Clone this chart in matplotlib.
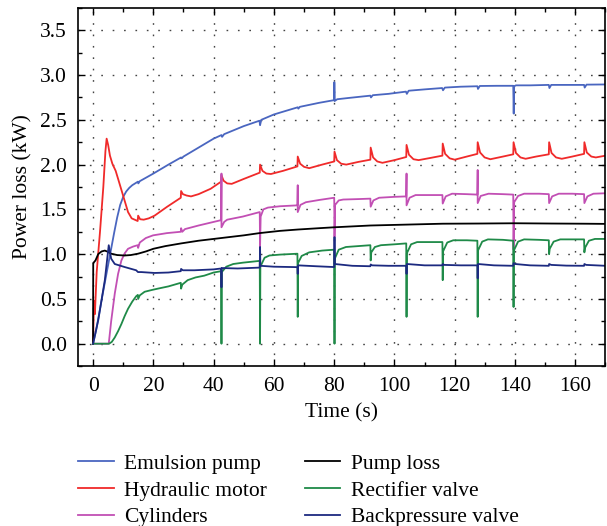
import matplotlib
matplotlib.use("Agg")
import matplotlib.pyplot as plt
from matplotlib.ticker import MultipleLocator

plt.rcParams["font.family"] = ["Liberation Serif", "DejaVu Serif"]
plt.rcParams["mathtext.fontset"] = "stix"

# Emulsion pump
emulsion_t = [0, 1, 2, 3, 4, 5, 6, 7, 8, 9, 10, 11, 12, 13, 14.9, 15.0, 15.5,
              20, 25, 29.2, 29.4, 30, 35, 40, 42.6, 42.8, 43.5, 50, 55.2, 55.4,
              55.8, 60, 67.9, 68.1, 68.6, 75, 80.0, 80.05, 80.15, 81, 85, 92.0,
              92.2, 92.8, 98, 103.8, 104.1, 104.7, 110, 115.8, 116.1, 116.7,
              122, 127.5, 127.7, 128.3, 134, 139.4, 139.55, 139.7, 140.3, 145,
              151.2, 151.4, 152, 157, 162.9, 163.1, 163.7, 170]
emulsion_kw = [0.0, 0.15, 0.33, 0.52, 0.70, 0.88, 1.06, 1.24, 1.41, 1.55, 1.64,
               1.70, 1.74, 1.77, 1.81, 1.79, 1.815, 1.90, 2.00, 2.08, 2.07, 2.09,
               2.19, 2.29, 2.33, 2.31, 2.34, 2.43, 2.49, 2.44, 2.50, 2.56, 2.64,
               2.625, 2.645, 2.69, 2.72, 2.92, 2.71, 2.73, 2.745, 2.77, 2.75,
               2.775, 2.79, 2.815, 2.79, 2.825, 2.84, 2.855, 2.83, 2.86, 2.87,
               2.875, 2.845, 2.878, 2.88, 2.88, 2.57, 2.875, 2.885, 2.885, 2.89,
               2.855, 2.89, 2.89, 2.89, 2.86, 2.893, 2.895]

# Hydraulic motor
motor_t = [0, 0.3, 0.6, 1.2, 2.3, 3.4, 4.1, 4.5, 5.0, 5.6, 6.4, 7.5, 8.4, 10.0,
           11.6, 12.8, 14.8, 14.95, 15.6, 16.8, 18.5, 20.4, 24.6, 29.1, 29.2,
           29.8, 31.0, 32.5, 35, 39, 42.5, 42.6, 43.3, 44.5, 46, 50, 55.3, 55.4,
           56.2, 57.5, 59, 63, 67.8, 67.9, 68.7, 70, 71.7, 76, 80.0, 80.1, 80.9,
           82.3, 84, 88, 92.0, 92.1, 92.9, 94.3, 96, 100, 103.9, 104.0, 104.8,
           106.3, 108, 112, 115.9, 116.0, 116.8, 118.3, 120, 124, 127.5, 127.6,
           128.4, 129.9, 131.8, 136, 139.4, 139.5, 140.3, 141.8, 143.5, 147,
           151.2, 151.3, 152.1, 153.6, 155.5, 159, 162.9, 163.0, 163.8, 165.3,
           166.8, 170]
motor_kw = [0.0, 0.48, 0.33, 0.80, 1.25, 1.75, 2.15, 2.29, 2.22, 2.10, 2.01,
            1.93, 1.83, 1.65, 1.47, 1.40, 1.37, 1.43, 1.39, 1.385, 1.40, 1.43,
            1.53, 1.63, 1.705, 1.67, 1.655, 1.645, 1.67, 1.73, 1.81, 1.88, 1.82,
            1.79, 1.785, 1.84, 1.91, 2.00, 1.93, 1.90, 1.895, 1.93, 1.98, 2.09,
            2.01, 1.975, 1.96, 2.00, 2.035, 2.145, 2.05, 2.01, 2.00, 2.03, 2.055,
            2.19, 2.08, 2.035, 2.02, 2.05, 2.085, 2.22, 2.11, 2.06, 2.05, 2.075,
            2.10, 2.235, 2.12, 2.07, 2.055, 2.09, 2.12, 2.25, 2.135, 2.08, 2.06,
            2.09, 2.115, 2.25, 2.13, 2.08, 2.065, 2.09, 2.115, 2.25, 2.13, 2.08,
            2.065, 2.09, 2.12, 2.25, 2.135, 2.09, 2.08, 2.10]

# Cylinders
cyl_t = [0, 5.2, 6.0, 7.2, 8.3, 9.4, 10.5, 11.6, 13.3, 14.8, 14.95, 15.5, 17.5,
         19.9, 24.5, 29.1, 29.2, 29.6, 30.5, 35, 40, 42.5, 42.6, 42.6, 43.5,
         44.5, 49.7, 55.3, 55.4, 55.6, 56.5, 58, 62, 67.8, 67.9, 67.9, 68.8,
         70.6, 75, 80.0, 80.1, 80.3, 81.5, 83, 88, 92.0, 92.1, 93, 94.9, 100,
         103.9, 104.0, 104.0, 105, 107, 112, 115.9, 116.0, 117, 119.1, 124,
         127.5, 127.6, 127.6, 128.6, 131.2, 136, 139.4, 139.5, 139.7, 141, 143,
         148, 151.2, 151.3, 152.3, 154.5, 159, 162.9, 163.0, 164, 166, 170]
cyl_kw = [0.0, 0.0, 0.25, 0.56, 0.78, 0.93, 1.01, 1.06, 1.085, 1.10, 1.07, 1.13,
          1.18, 1.21, 1.235, 1.25, 1.29, 1.25, 1.28, 1.32, 1.36, 1.38, 1.90,
          1.30, 1.36, 1.385, 1.42, 1.47, 1.08, 1.42, 1.50, 1.52, 1.535, 1.545,
          1.77, 1.47, 1.55, 1.58, 1.605, 1.63, 1.19, 1.55, 1.60, 1.61, 1.615,
          1.62, 1.53, 1.60, 1.63, 1.64, 1.645, 1.90, 1.545, 1.63, 1.66, 1.66,
          1.66, 1.565, 1.645, 1.675, 1.67, 1.665, 1.94, 1.57, 1.65, 1.675, 1.67,
          1.665, 1.05, 1.58, 1.65, 1.675, 1.675, 1.67, 1.57, 1.645, 1.675,
          1.675, 1.67, 1.57, 1.645, 1.675, 1.68]

# Pump loss
pump_t = [0, 0.05, 0.8, 1.7, 2.8, 3.9, 5.0, 6.0, 8.0, 10.5, 12.5, 14.9, 17.5, 20,
          24, 29.2, 35, 42.5, 50, 55.2, 62, 67.9, 75, 80, 92, 104, 116, 128,
          140, 152, 163, 170]
pump_kw = [0.0, 0.90, 0.93, 1.00, 1.03, 1.04, 1.025, 1.005, 0.99, 0.985, 0.99,
           1.005, 1.03, 1.06, 1.09, 1.12, 1.15, 1.18, 1.21, 1.235, 1.26, 1.275,
           1.29, 1.30, 1.32, 1.33, 1.34, 1.342, 1.345, 1.342, 1.34, 1.338]

# Rectifier valve
rect_t = [0, 5.3, 6.2, 7.2, 8.3, 9.4, 10.5, 11.6, 13.0, 14.3, 14.85, 14.95,
          15.5, 17.1, 19.5, 21.5, 25, 29.1, 29.2, 29.6, 31.4, 34, 36.9, 40,
          42.5, 42.6, 42.7, 44.2, 46.5, 49.7, 55.3, 55.4, 55.5, 56.9, 58.5, 62,
          67.8, 67.9, 68.0, 69.2, 71.7, 76, 80.0, 80.1, 80.2, 81.5, 83.9, 88,
          92.0, 92.1, 92.3, 93.5, 95.5, 100, 103.9, 104.0, 104.1, 105.5, 107.5,
          112, 115.9, 116.0, 116.1, 117.5, 119.5, 124, 127.5, 127.6, 127.7,
          129.1, 131, 136, 139.4, 139.5, 139.6, 141, 143, 148, 151.2, 151.3,
          151.5, 152.8, 155, 159, 162.9, 163.0, 163.2, 164.5, 166.5, 170]
rect_kw = [0.0, 0.0, 0.02, 0.07, 0.14, 0.22, 0.31, 0.39, 0.47, 0.53, 0.545, 0.50,
           0.54, 0.58, 0.60, 0.615, 0.64, 0.68, 0.615, 0.66, 0.71, 0.74, 0.76,
           0.795, 0.81, 0.0, 0.80, 0.86, 0.89, 0.905, 0.925, 0.0, 0.86, 0.96,
           0.985, 0.995, 1.005, 0.30, 0.90, 0.98, 1.02, 1.04, 1.05, 0.0, 0.95,
           1.05, 1.08, 1.09, 1.10, 0.93, 1.02, 1.08, 1.10, 1.11, 1.12, 0.30,
           1.01, 1.11, 1.135, 1.135, 1.135, 0.71, 1.03, 1.13, 1.155, 1.155,
           1.15, 0.30, 1.04, 1.14, 1.165, 1.16, 1.15, 0.41, 1.04, 1.14, 1.165,
           1.16, 1.155, 1.00, 1.06, 1.14, 1.165, 1.165, 1.165, 1.02, 1.07,
           1.15, 1.17, 1.17]

# Backpressure valve
back_t = [0, 1.7, 3.9, 5.2, 6.0, 7.2, 10.5, 14.3, 14.9, 16, 20.4, 25, 29.1,
          29.2, 29.8, 33.6, 40, 42.5, 42.6, 42.7, 48, 55.3, 55.4, 55.5, 60,
          67.8, 67.9, 68.0, 74, 80.0, 80.1, 80.2, 86, 92.0, 92.1, 92.6, 98,
          103.9, 104.0, 104.1, 110, 115.9, 116.0, 116.5, 122, 127.5, 127.6,
          127.7, 133, 139.4, 139.5, 140, 145, 151.2, 151.3, 152, 157, 162.9,
          163.0, 163.6, 170]
back_kw = [0.0, 0.26, 0.71, 1.10, 0.95, 0.89, 0.856, 0.82, 0.80, 0.80, 0.79,
           0.795, 0.81, 0.835, 0.82, 0.82, 0.83, 0.84, 0.63, 0.845, 0.84, 0.85,
           1.08, 0.87, 0.86, 0.855, 0.78, 0.875, 0.865, 0.856, 1.19, 0.89, 0.87,
           0.865, 0.885, 0.875, 0.87, 0.87, 0.78, 0.89, 0.875, 0.875, 0.89,
           0.88, 0.875, 0.875, 0.73, 0.89, 0.875, 0.87, 0.90, 0.89, 0.875,
           0.87, 0.89, 0.88, 0.872, 0.87, 0.89, 0.88, 0.87]

series = [
    ("Emulsion pump", emulsion_t, emulsion_kw, "#4a66c0"),
    ("Hydraulic motor", motor_t, motor_kw, "#f02a2a"),
    ("Cylinders", cyl_t, cyl_kw, "#c24fb4"),
    ("Pump loss", pump_t, pump_kw, "#000000"),
    ("Rectifier valve", rect_t, rect_kw, "#1f8a48"),
    ("Backpressure valve", back_t, back_kw, "#1c2a80"),
]

fig = plt.figure(figsize=(6.07, 5.26), dpi=100)
ax = fig.add_axes([0.1285, 0.304, 0.869, 0.681])

for label, t, kw, color in series:
    ax.plot(t, kw, color=color, linewidth=1.3, label=label)

ax.set_xlim(-5, 170)
ax.set_ylim(-0.25, 3.75)
ax.xaxis.set_major_locator(MultipleLocator(20))
ax.xaxis.set_minor_locator(MultipleLocator(10))
ax.yaxis.set_major_locator(MultipleLocator(0.5))
ax.yaxis.set_minor_locator(MultipleLocator(0.25))
ax.yaxis.set_major_formatter(plt.FormatStrFormatter("%.1f"))
ax.tick_params(which="both", direction="in", top=True, right=True,
               labelsize=15.5, width=1.0)
ax.tick_params(which="major", length=5, pad=8)
ax.tick_params(which="minor", length=3)
ax.grid(True, which="major", color="#444444", linestyle=(0, (1.2, 7)),
        linewidth=1.0)
for s in ax.spines.values():
    s.set_linewidth(1.2)

ax.set_xlabel("Time (s)", fontsize=15.5, labelpad=5)
ax.set_ylabel("Power loss (kW)", fontsize=15.5, labelpad=5)

fig.legend(loc="upper left", bbox_to_anchor=(0.1285, 0.137), ncol=2,
           frameon=False, fontsize=15.5, handlelength=1.65, handletextpad=0.5,
           labelspacing=0.3, columnspacing=1.75, borderpad=0, borderaxespad=0)

fig.savefig("out.png", dpi=100)
